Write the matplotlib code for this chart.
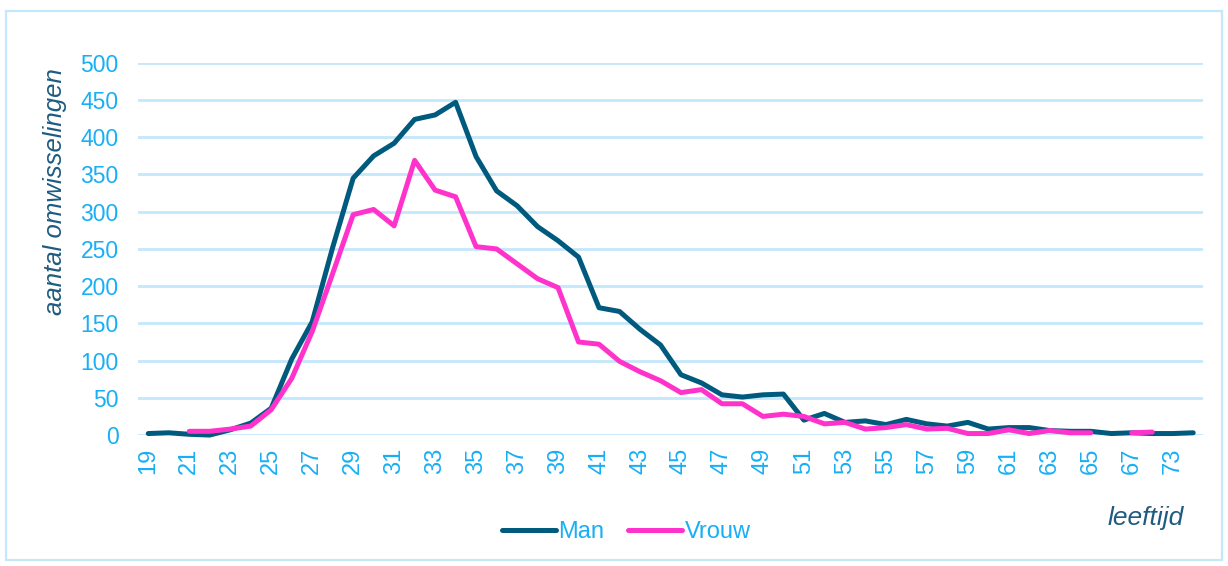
import numpy as np
import matplotlib
matplotlib.use('Agg')
from matplotlib import pyplot as plt
from matplotlib.patches import Rectangle

# age categories (the axis skips from 67/69 to 73)
ages = ['19', '20', '21', '22', '23', '24', '25', '26', '27', '28',
        '29', '30', '31', '32', '33', '34', '35', '36', '37', '38',
        '39', '40', '41', '42', '43', '44', '45', '46', '47', '48',
        '49', '50', '51', '52', '53', '54', '55', '56', '57', '58',
        '59', '60', '61', '62', '63', '64', '65', '66', '67', '69',
        '73', '74']

nan = np.nan
man = [2, 3, 1, 0, 7, 16, 36, 102, 152, 252,
       345, 375, 392, 424, 430, 447, 374, 328, 308, 280,
       261, 239, 171, 166, 142, 121, 81, 70, 54, 51,
       54, 55, 20, 29, 17, 19, 14, 21, 15, 12,
       17, 8, 10, 10, 6, 5, 5, 2, 3, 2,
       2, 3]
vrouw = [nan, nan, 5, 5, 8, 12, 34, 76, 139, 217,
         296, 303, 281, 369, 329, 320, 253, 250, 230, 210,
         198, 125, 122, 99, 85, 73, 57, 61, 42, 42,
         25, 28, 25, 15, 17, 8, 10, 14, 8, 9,
         2, 2, 7, 2, 6, 3, 3, nan, 3, 4,
         nan, nan]

yticks = [0, 50, 100, 150, 200, 250, 300, 350, 400, 450, 500]

plt.rcParams['font.family'] = ['Liberation Sans', 'DejaVu Sans']

tick_col = '#17aff5'
dark_col = '#1f5b80'

fig = plt.figure(figsize=(12.28, 5.66), dpi=100)
ax = fig.add_axes([0.1124, 0.2314, 0.8676, 0.6576])

x = np.arange(len(ages))
ax.plot(x, man, color='#005a7e', lw=3.6, label='Man',
        solid_capstyle='round', solid_joinstyle='round', clip_on=False, zorder=3)
ax.plot(x, vrouw, color='#ff33cc', lw=3.6, label='Vrouw',
        solid_capstyle='round', solid_joinstyle='round', clip_on=False, zorder=4)

ax.set_xlim(-0.5, len(ages) - 0.5)
ax.set_ylim(0, 500)
ax.set_yticks(yticks)
ax.set_xticks(x[::2])
ax.set_xticklabels(ages[::2], rotation=90)
ax.grid(axis='y', color='#c4e8fb', lw=2.0)
ax.set_axisbelow(True)
for s in ax.spines.values():
    s.set_visible(False)
ax.tick_params(axis='both', length=0, labelsize=16.5, labelcolor=tick_col)
ax.tick_params(axis='x', labelsize=17)
ax.tick_params(axis='y', pad=14)
ax.tick_params(axis='x', pad=9)

fig.text(0.0448, 0.6617, 'aantal omwisselingen', rotation=90, ha='center',
         va='center', fontsize=18.5, style='italic', color=dark_col)
fig.text(0.933, 0.085, 'leeftijd', ha='center', va='center',
         fontsize=19, style='italic', color=dark_col)

fig.legend(loc='center', bbox_to_anchor=(0.51, 0.06), ncol=2, frameon=False,
           fontsize=17, labelcolor=tick_col, handlelength=2.3,
           handletextpad=0.1, columnspacing=1.0)

fig.patches.append(Rectangle((0.005, 0.011), 0.99, 0.97, transform=fig.transFigure,
                             fill=False, edgecolor='#c4e8fb', lw=1.6))

fig.savefig('out.png', dpi=100)
